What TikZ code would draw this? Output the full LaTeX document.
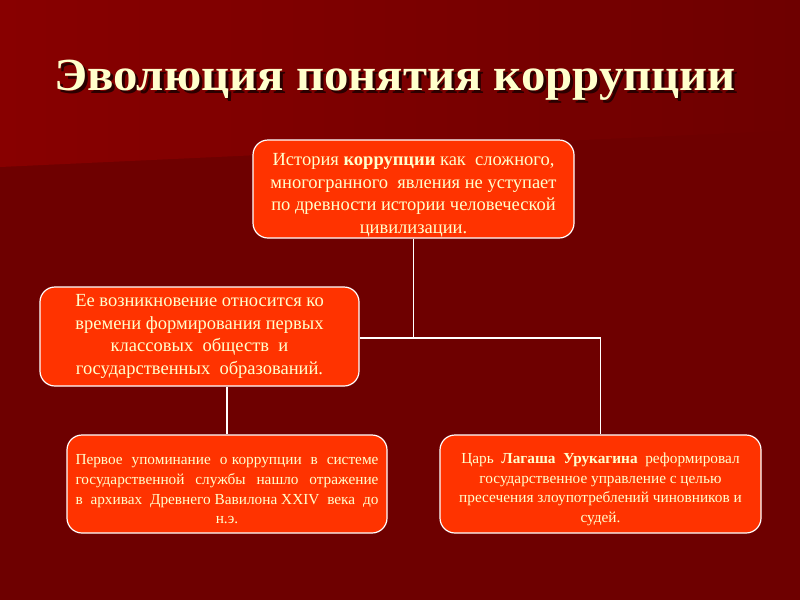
\documentclass[tikz,border=0pt]{standalone}
\usepackage{fontspec}
\setmainfont{Liberation Serif}
\usetikzlibrary{shadings}
\definecolor{bgdark}{HTML}{6E0000}
\definecolor{bglight}{HTML}{880000}
\definecolor{boxfill}{HTML}{FF3300}
\definecolor{cream}{HTML}{FFFFCC}
\definecolor{shadowc}{HTML}{2A0000}
\tikzset{
  box/.style={draw=white, line width=1.2pt, fill=boxfill, rounded corners=15pt,
    minimum width=#1, minimum height=98pt, inner sep=0pt, align=center, text=cream},
  bigtxt/.style={font=\fontsize{18.5}{22.5}\selectfont},
  smalltxt/.style={font=\fontsize{15.3}{19.7}\selectfont},
  link/.style={draw=white, line width=1.5pt},
  titletxt/.style={font=\fontsize{46}{50}\selectfont\bfseries}
}
\newcommand{\topstrut}[1]{\rule{0pt}{#1}}
\newcommand{\shadowed}[1]{\makebox[0pt][l]{\hspace*{3pt}\raisebox{-3pt}{\color{shadowc}#1}}#1}
\begin{document}
\begin{tikzpicture}[x=1pt,y=-1pt]
\useasboundingbox (0,0) rectangle (800,600);
\fill[bgdark] (0,0) rectangle (800,600);
\shade[left color=bglight, right color=bgdark] (0,0) -- (800,0) -- (800,130) -- (0,167) -- cycle;
% title
\node[titletxt, text=cream] (title) at (395,81.5) {\scalebox{1.06}[1]{\shadowed{Эволюция понятия коррупции}}};
% boxes
\node[box=321pt, bigtxt] (top) at (413.5,189) {\topstrut{25pt}История \textbf{коррупции} как\ \ сложного,\\многогранного\ \ явления не уступает\\по древности истории человеческой\\цивилизации.};
\node[box=319pt, minimum height=99pt, bigtxt] (mid) at (199.5,336.5) {Ее возникновение относится ко\\времени формирования первых\\классовых\ \ обществ\ \ и\\государственных\ \ образований.};
\node[box=320pt, smalltxt] (bl) at (227,484) {\topstrut{21pt}\makebox[303pt][s]{Первое\ \ упоминание\ \ о коррупции\ \ в\ \ системе}\\\makebox[303pt][s]{государственной\ \ службы\ \ нашло\ \ отражение}\\\makebox[303pt][s]{в\ \ архивах\ \ Древнего Вавилона XXIV\ \ века\ \ до}\\н.э.};
\node[box=321pt, smalltxt] (br) at (600.5,484) {\topstrut{21pt}Царь\ \ \textbf{Лагаша\ \ Урукагина}\ \ реформировал\\государственное управление с целью\\пресечения злоупотреблений чиновников и\\судей.};
% connectors
\draw[link] (top.south) -- (top.south |- 0,338);
\coordinate (hl) at (mid.east |- 0,338);
\draw[link] (hl) -| (br.north);
\draw[link] (bl.north |- mid.south) -- (bl.north);
\end{tikzpicture}
\end{document}
